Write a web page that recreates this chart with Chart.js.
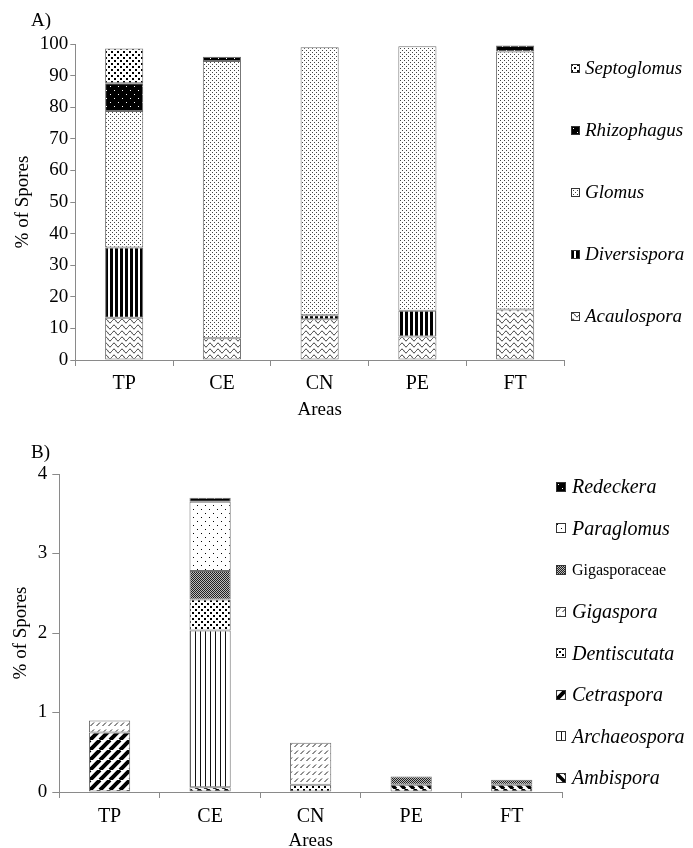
<!DOCTYPE html>
<html>
<head>
<meta charset="utf-8">
<script src="https://cdn.jsdelivr.net/npm/chart.js@4.4.0/dist/chart.umd.min.js"></script>
<style>
	body { margin: 0; background: #fff; width: 693px; height: 848px; position: relative; overflow: hidden; font-family: 'Liberation Serif', 'Times New Roman', serif; }
	.panel { position: absolute; left: 0; width: 693px; }
	#panel-a { top: 0; height: 420px; }
	#panel-b { top: 420px; height: 428px; }
	.tag { position: absolute; font-size: 19px; line-height: 19px; color: #000; }
	.legend { position: absolute; }
	.legend .item { display: flex; align-items: center; white-space: nowrap; font-style: italic; color: #000; }
	.legend .item.plain { font-style: normal; font-size: 16px !important; }
	.legend canvas { display: block; }
	#legend-a { left: 571px; top: 37px; }
	#legend-a .item { height: 62px; font-size: 19px; }
	#legend-a canvas { margin-right: 5px; }
	#legend-b { left: 556px; top: 466px; }
	#legend-b .item { height: 41.6px; font-size: 20px; }
	#legend-b canvas { margin-right: 6px; }
</style>
</head>
<body>
<div class="panel" id="panel-a"><canvas id="chart-a" width="693" height="420"></canvas></div>
<div class="panel" id="panel-b"><canvas id="chart-b" width="693" height="428"></canvas></div>
<div class="tag" style="left:31px;top:10px">A)</div>
<div class="tag" style="left:31px;top:442px">B)</div>
<div class="legend" id="legend-a"></div>
<div class="legend" id="legend-b"></div>
<script>
const areas = ['TP', 'CE', 'CN', 'PE', 'FT'];

// panel A: main genera (% of spores)
const generaA = ['Acaulospora', 'Diversispora', 'Glomus', 'Rhizophagus', 'Septoglomus'];
const acaulospora = [13.4, 6.9, 12.9, 7.4, 16.0];
const diversispora = [22.2, 0, 1.3, 8.2, 0];
const glomus = [43.2, 87.7, 84.8, 83.7, 81.6];
const rhizophagus = [8.8, 1.4, 0, 0, 1.9];
const septoglomus = [11.0, 0, 0, 0, 0];
const yTicksA = [0, 10, 20, 30, 40, 50, 60, 70, 80, 90, 100];

// panel B: minor genera (% of spores)
const generaB = ['Ambispora', 'Archaeospora', 'Cetraspora', 'Dentiscutata', 'Gigaspora', 'Gigasporaceae', 'Paraglomus', 'Redeckera'];
const ambispora = [0, 0.06, 0, 0.09, 0.09];
const archaeospora = [0, 1.97, 0, 0, 0];
const cetraspora = [0.75, 0, 0, 0, 0];
const dentiscutata = [0, 0.39, 0.09, 0, 0];
const gigaspora = [0.15, 0, 0.53, 0, 0];
const gigasporaceae = [0, 0.36, 0, 0.105, 0.065];
const paraglomus = [0, 0.87, 0, 0, 0];
const redeckera = [0, 0.05, 0, 0, 0];
const yTicksB = [0, 1, 2, 3, 4];

const seriesA = [acaulospora, diversispora, glomus, rhizophagus, septoglomus];
const seriesB = [ambispora, archaeospora, cetraspora, dentiscutata, gigaspora, gigasporaceae, paraglomus, redeckera];

function tile(w, h, bg, draw) {
	const c = document.createElement('canvas');
	c.width = w;
	c.height = h;
	const ctx = c.getContext('2d');
	ctx.fillStyle = bg;
	ctx.fillRect(0, 0, w, h);
	draw(ctx);
	return c;
}

function dots(ctx, color, size, pts) {
	ctx.fillStyle = color;
	pts.forEach(([x, y]) => ctx.fillRect(x, y, size, size));
}

function diagonal(ctx, size, width, forward) {
	ctx.strokeStyle = '#000';
	ctx.lineWidth = width;
	ctx.beginPath();
	for (let k = -1; k <= 1; k++) {
		if (forward) {
			ctx.moveTo(k * size, size);
			ctx.lineTo(k * size + size, 0);
		} else {
			ctx.moveTo(k * size, 0);
			ctx.lineTo(k * size + size, size);
		}
	}
	ctx.stroke();
}

const tiles = {
	Acaulospora: () => tile(8, 6, '#fff', (ctx) => {
		ctx.strokeStyle = '#222';
		ctx.lineWidth = 1;
		ctx.beginPath();
		ctx.moveTo(0, 3);
		ctx.bezierCurveTo(1.3, 0.6, 2.7, 0.6, 4, 3);
		ctx.bezierCurveTo(5.3, 5.4, 6.7, 5.4, 8, 3);
		ctx.stroke();
	}),
	Diversispora: () => tile(5, 2, '#fff', (ctx) => dots(ctx, '#000', 3, [[0, 0], [0, 1]])),
	Glomus: () => tile(4, 4, '#fff', (ctx) => dots(ctx, '#444', 1, [[0, 0], [2, 2]])),
	Rhizophagus: () => tile(8, 8, '#000', (ctx) => dots(ctx, '#fff', 1, [[2, 2], [6, 6]])),
	Septoglomus: () => tile(6, 6, '#fff', (ctx) => dots(ctx, '#000', 2, [[0, 0], [3, 3]])),
	Ambispora: () => tile(9, 9, '#fff', (ctx) => diagonal(ctx, 9, 3.5, false)),
	Archaeospora: () => tile(5, 2, '#fff', (ctx) => dots(ctx, '#111', 1, [[0, 0], [0, 1]])),
	Cetraspora: () => tile(10, 10, '#fff', (ctx) => diagonal(ctx, 10, 4, true)),
	Dentiscutata: () => tile(6, 6, '#fff', (ctx) => dots(ctx, '#000', 2, [[0, 0], [3, 3]])),
	Gigaspora: () => tile(6, 7, '#fff', (ctx) => {
		ctx.strokeStyle = '#222';
		ctx.lineWidth = 1;
		ctx.beginPath();
		ctx.moveTo(0.5, 5);
		ctx.lineTo(4, 1.5);
		ctx.stroke();
	}),
	Gigasporaceae: () => tile(2, 2, '#bbb', (ctx) => dots(ctx, '#222', 1, [[0, 0], [1, 1]])),
	Paraglomus: () => tile(8, 8, '#fff', (ctx) => dots(ctx, '#000', 1, [[1, 1], [5, 5]])),
	Redeckera: () => tile(8, 8, '#000', (ctx) => dots(ctx, '#fff', 1, [[2, 2], [6, 6]])),
};

const scratch = document.createElement('canvas').getContext('2d');
function patternFor(name) {
	return scratch.createPattern(tiles[name](), 'repeat');
}

Chart.defaults.font.family = "'Liberation Serif', 'Times New Roman', serif";
Chart.defaults.color = '#000';
Chart.defaults.animation = false;

const axisGrey = '#8a8a8a';

function buildDatasets(names, series, barPct) {
	return names.map((name, i) => ({
		label: name,
		data: series[i].map((v) => (v === 0 ? null : v)),
		backgroundColor: patternFor(name),
		borderColor: '#6e6e6e',
		borderWidth: 1,
		borderSkipped: false,
		barPercentage: barPct,
		categoryPercentage: 1,
	}));
}

// lay: spacing numbers for one panel
function buildOptions(ticks, lay) {
	return {
		responsive: false,
		maintainAspectRatio: false,
		layout: { padding: lay.padding },
		plugins: { legend: { display: false }, tooltip: { enabled: false } },
		scales: {
			x: {
				stacked: true,
				offset: true,
				grid: { offset: true, drawOnChartArea: false, drawTicks: true, tickLength: 6, color: axisGrey },
				border: { color: axisGrey },
				ticks: { font: { size: 20, lineHeight: 1 }, padding: lay.xLabelPad, color: '#000' },
				title: {
					display: true,
					text: 'Areas',
					font: { size: 19, lineHeight: 1 },
					padding: { top: lay.xTitlePad, bottom: 0 },
					color: '#000',
				},
			},
			y: {
				stacked: true,
				min: ticks[0],
				max: ticks[ticks.length - 1],
				grid: { drawOnChartArea: false, drawTicks: true, tickLength: lay.yTickLen, color: axisGrey },
				border: { color: axisGrey },
				ticks: { stepSize: ticks[1] - ticks[0], font: { size: 19 }, padding: lay.yLabelPad, color: '#000' },
				title: {
					display: true,
					text: '% of Spores',
					font: { size: 19 },
					padding: { top: 3, bottom: lay.yTitleGap },
					color: '#000',
				},
			},
		},
	};
}

new Chart(document.getElementById('chart-a'), {
	type: 'bar',
	data: { labels: areas, datasets: buildDatasets(generaA, seriesA, 0.39) },
	options: buildOptions(yTicksA, {
		padding: { left: 9, right: 129, top: 44, bottom: 0 },
		xLabelPad: 8,
		xTitlePad: -1,
		yTickLen: 5,
		yLabelPad: 2,
		yTitleGap: 3,
	}),
});

new Chart(document.getElementById('chart-b'), {
	type: 'bar',
	data: { labels: areas, datasets: buildDatasets(generaB, seriesB, 0.41) },
	options: buildOptions(yTicksB, {
		padding: { left: 7, right: 131, top: 54, bottom: -3 },
		xLabelPad: 9,
		xTitlePad: -4,
		yTickLen: 7,
		yLabelPad: 5,
		yTitleGap: 0,
	}),
});

function buildLegend(id, names, box) {
	const el = document.getElementById(id);
	names.slice().reverse().forEach((name) => {
		const item = document.createElement('div');
		item.className = 'item' + (name === 'Gigasporaceae' ? ' plain' : '');
		const sw = document.createElement('canvas');
		sw.width = box;
		sw.height = box;
		const ctx = sw.getContext('2d');
		ctx.fillStyle = ctx.createPattern(tiles[name](), 'repeat');
		ctx.fillRect(0, 0, box, box);
		ctx.strokeStyle = '#333';
		ctx.lineWidth = 1;
		ctx.strokeRect(0.5, 0.5, box - 1, box - 1);
		item.appendChild(sw);
		item.appendChild(document.createTextNode(name));
		el.appendChild(item);
	});
}

buildLegend('legend-a', generaA, 9);
buildLegend('legend-b', generaB, 10);
</script>
</body>
</html>
